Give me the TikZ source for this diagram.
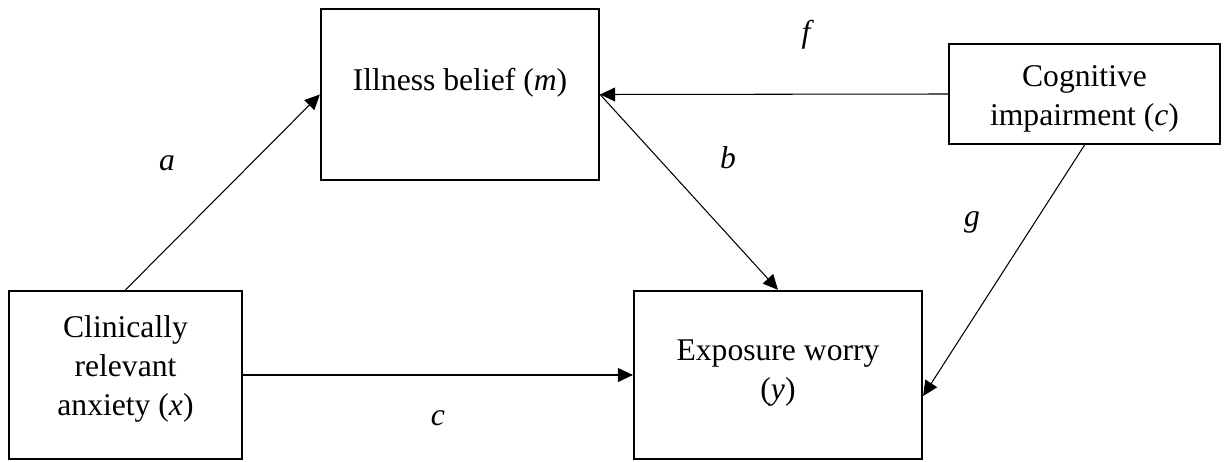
\documentclass[tikz,border=0pt]{standalone}
\usepackage{fontspec}
\setmainfont{Liberation Serif}
\usetikzlibrary{arrows.meta}

\begin{document}
\begin{tikzpicture}[
  var/.style={rectangle, draw, line width=1.3pt, inner sep=0pt},
  vtxt/.style={align=center, font=\fontsize{18}{22}\selectfont},
  link/.style={line width=0.6pt, -{Triangle[length=0.3cm, width=0.28cm]}},
  coef/.style={font=\fontsize{18}{22}\selectfont\itshape},
]
\useasboundingbox (0,0) rectangle (24.56,-9.24);

% Variables
\node[var, minimum width=5.56cm, minimum height=3.42cm] (ib) at (9.20, -1.89) {};
\node[vtxt] (ibt) at (9.20, -1.66) {Illness belief (\textit{m})};

\node[var, minimum width=5.42cm, minimum height=2.0cm] (ci) at (21.69, -1.88) {};
\node[vtxt] (cit) at (21.69, -1.98) {Cognitive\\impairment (\textit{c})};

\node[var, minimum width=4.66cm, minimum height=3.36cm] (ax) at (2.51, -7.50) {};
\node[vtxt] (axt) at (2.51, -7.38) {Clinically\\relevant\\anxiety (\textit{x})};

\node[var, minimum width=5.76cm, minimum height=3.36cm] (ew) at (15.56, -7.50) {};
\node[vtxt] (ewt) at (15.56, -7.46) {Exposure worry\\(\textit{y})};

% Paths
\draw[link] (ax.north) -- (ib.west);
\draw[link] (ib.east) -- (ew.north);
\draw[link] (ci.west) -- (ib.east);
\draw[link] (ci.south) -- ([yshift=-0.42cm]ew.east);
\draw[link] (ax.east) -- (ew.west);

% Coefficients
\node[coef] (la) at (3.34, -3.26) {a};
\node[coef] (lb) at (14.56, -3.16) {b};
\node[coef] (lf) at (16.12, -0.70) {f};
\node[coef] (lg) at (19.44, -4.44) {g};
\node[coef] (lc) at (8.76, -8.36) {c};

\end{tikzpicture}
\end{document}
